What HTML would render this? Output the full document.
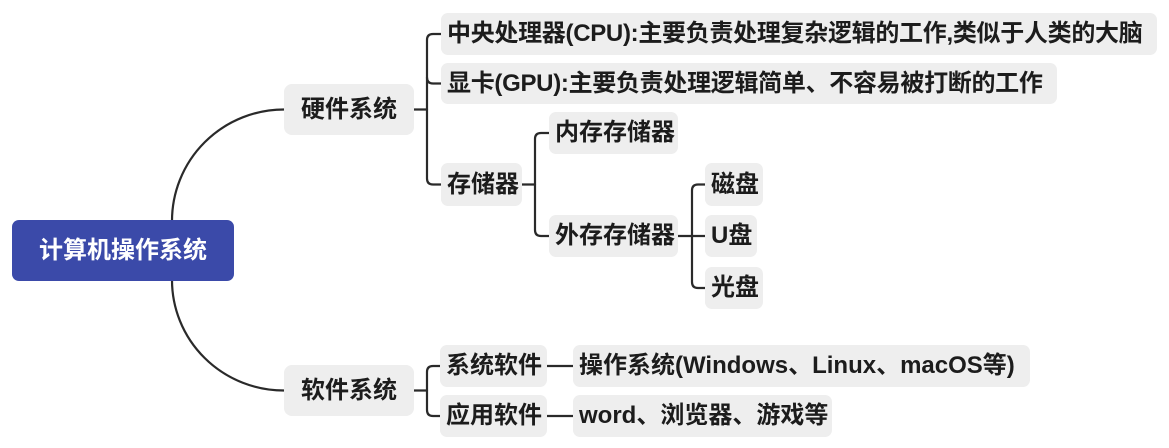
<!DOCTYPE html>
<html>
<head>
<meta charset="utf-8">
<style>
  html, body { margin:0; padding:0; }
  body { width:1169px; height:448px; background:#ffffff; position:relative; overflow:hidden;
         font-family:"Liberation Sans","Noto Sans CJK SC",sans-serif; }
  svg { position:absolute; left:0; top:0; }
  .n { position:absolute; background:#eeeeee; border-radius:7px; color:#1c1c1c;
       font-size:24px; font-weight:bold; white-space:nowrap; box-sizing:border-box;
       padding-left:6px; }
  .l1 { text-align:center; padding-left:0; border-radius:8px; }
  .root { position:absolute; left:12px; top:220px; width:222px; height:61px; line-height:61px;
          background:#3b4aa9; color:#fff; border-radius:7px; text-align:center;
          font-size:24px; font-weight:bold; white-space:nowrap; }
</style>
</head>
<body>
<svg width="1169" height="448" viewBox="0 0 1169 448">
  <g fill="none" stroke="#2a2a2a" stroke-width="2.2" stroke-linecap="round">
    <path d="M172,221 A112,111.5 0 0 1 284,109.5"/>
    <path d="M172,280 A112,110.5 0 0 0 284,390.5"/>
    <path d="M414,109.5 H427"/>
    <path d="M441,34 H433 Q427,34 427,40 V178.5 Q427,184.5 433,184.5 H441"/>
    <path d="M427,77.5 Q427,83.5 433,83.5 H441"/>
    <path d="M522,184.5 H535"/>
    <path d="M549,133 H541 Q535,133 535,139 V230 Q535,236 541,236 H549"/>
    <path d="M678,236 H705"/>
    <path d="M705,184.5 H698 Q692,184.5 692,190.5 V282 Q692,288 698,288 H705"/>
    <path d="M414,390.5 H427"/>
    <path d="M440,366 H433 Q427,366 427,372 V410 Q427,416 433,416 H440"/>
    <path d="M547,366 H573"/>
    <path d="M547,416 H573"/>
  </g>
</svg>

<div class="root">计算机操作系统</div>

<div class="n l1" style="left:284px;top:84px;width:130px;height:51px;line-height:51px;">硬件系统</div>
<div class="n l1" style="left:284px;top:365px;width:130px;height:51px;line-height:51px;">软件系统</div>

<div class="n" style="left:441px;top:13px;width:716px;height:42px;line-height:42px;letter-spacing:-0.3px;">中央处理器(CPU):主要负责处理复杂逻辑的工作,类似于人类的大脑</div>
<div class="n" style="left:441px;top:63px;width:616px;height:41px;line-height:41px;letter-spacing:-0.3px;">显卡(GPU):主要负责处理逻辑简单、不容易被打断的工作</div>
<div class="n" style="left:441px;top:163px;width:81px;height:43px;line-height:43px;">存储器</div>

<div class="n" style="left:549px;top:112px;width:129px;height:42px;line-height:42px;">内存存储器</div>
<div class="n" style="left:549px;top:215px;width:129px;height:42px;line-height:42px;">外存存储器</div>

<div class="n" style="left:705px;top:163px;width:58px;height:43px;line-height:43px;">磁盘</div>
<div class="n" style="left:705px;top:215px;width:52px;height:42px;line-height:42px;">U盘</div>
<div class="n" style="left:705px;top:267px;width:58px;height:42px;line-height:42px;">光盘</div>

<div class="n" style="left:440px;top:345px;width:107px;height:42px;line-height:42px;">系统软件</div>
<div class="n" style="left:440px;top:395px;width:107px;height:42px;line-height:42px;">应用软件</div>

<div class="n" style="left:573px;top:345px;width:457px;height:42px;line-height:42px;">操作系统(Windows、Linux、macOS等)</div>
<div class="n" style="left:573px;top:395px;width:259px;height:42px;line-height:42px;">word、浏览器、游戏等</div>
</body>
</html>
